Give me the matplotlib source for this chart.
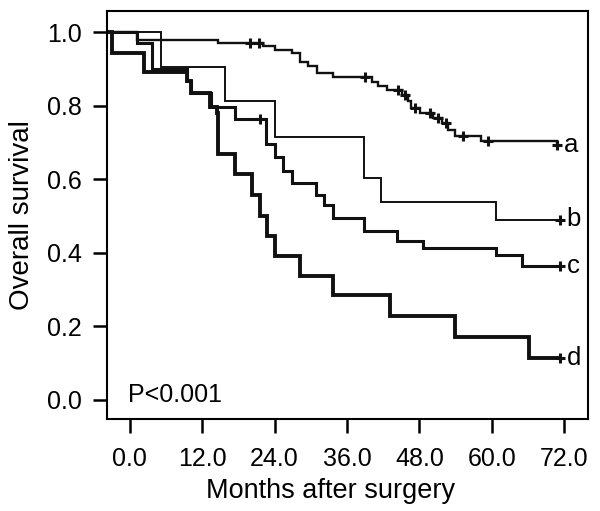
import matplotlib
matplotlib.use('Agg')
import matplotlib.pyplot as plt

plt.rcParams['font.family'] = ['Liberation Sans', 'DejaVu Sans']

# step curves: start time of each level (months) and survival at that level
t_a = [-3.8, 1.1, 14.6, 22.1, 24.0, 26.8, 28.2, 29.6, 31.0, 33.7, 40.1, 41.2,
       42.6, 45.1, 46.2, 46.7, 48.1, 50.3, 51.7, 52.8, 53.9, 58.3, 70.8]
s_a = [1.0, 0.98, 0.971, 0.963, 0.952, 0.943, 0.92, 0.907, 0.889, 0.878, 0.866,
       0.853, 0.842, 0.83, 0.812, 0.794, 0.78, 0.767, 0.753, 0.735, 0.718,
       0.703, 0.692]
cens_a = [19.9, 21.4, 39.0, 44.5, 45.6, 47.3, 49.8, 51.1, 52.5, 55.3, 59.4, 70.8]

t_b = [-3.8, 5.2, 15.8, 24.0, 38.8, 41.7, 60.7]
s_b = [1.0, 0.905, 0.812, 0.714, 0.604, 0.537, 0.49]
cens_b = [71.3]

t_c = [-3.8, 1.1, 3.6, 9.4, 10.2, 13.4, 17.4, 22.6, 24.0, 25.4, 26.8, 30.9,
       32.2, 33.6, 38.8, 44.3, 48.6, 60.7, 65.0]
s_c = [1.0, 0.97, 0.90, 0.868, 0.835, 0.798, 0.765, 0.697, 0.66, 0.623, 0.589,
       0.557, 0.53, 0.496, 0.46, 0.432, 0.413, 0.393, 0.363]
cens_c = [21.6, 71.3]

t_d = [-3.8, -3.0, 2.4, 9.4, 10.2, 13.3, 14.4, 14.6, 17.4, 20.2, 21.6, 22.8,
       24.0, 28.2, 33.7, 43.1, 53.9, 66.2]
s_d = [1.0, 0.945, 0.891, 0.868, 0.835, 0.798, 0.78, 0.669, 0.614, 0.556,
       0.501, 0.446, 0.39, 0.337, 0.286, 0.227, 0.17, 0.113]
cens_d = [71.3]

groups = ['a', 'b', 'c', 'd']
x_ticks = [0, 12, 24, 36, 48, 60, 72]
y_ticks = [0.0, 0.2, 0.4, 0.6, 0.8, 1.0]


def level_at(t, s, x):
    v = s[0]
    for ti, si in zip(t, s):
        if ti <= x:
            v = si
    return v


fig = plt.figure(figsize=(6.0, 5.11), dpi=100)
ax = fig.add_axes([0.1783, 0.1795, 0.802, 0.799])

curves = [(t_a, s_a, cens_a, 1.7), (t_b, s_b, cens_b, 1.4),
          (t_c, s_c, cens_c, 2.2), (t_d, s_d, cens_d, 2.8)]
for lab, (t, s, cens, lw) in zip(groups, curves):
    t_end = max(cens)
    ax.step(t + [t_end], s + [s[-1]], where='post', color='#111111', lw=lw,
            solid_joinstyle='miter')
    ax.plot(cens, [level_at(t, s, c) for c in cens], ls='none', marker='+',
            ms=7, mew=2.2, color='#111111')
    ax.annotate(lab, (t_end, s[-1]), xytext=(5, -4.7),
                textcoords='offset points', va='baseline', ha='left',
                fontsize=18.5)

ax.text(0.044, 0.043, 'P<0.001', transform=ax.transAxes, fontsize=18,
        va='baseline', ha='left')

ax.set_xlim(-3.8, 76)
ax.set_ylim(-0.053, 1.058)
ax.set_xticks(x_ticks)
ax.set_xticklabels([f'{v:.1f}' for v in x_ticks])
ax.set_yticks(y_ticks)
ax.set_yticklabels([f'{v:.1f}' for v in y_ticks])
ax.tick_params(direction='out', length=10, width=1.8, labelsize=18)
ax.tick_params(axis='x', pad=10)
ax.tick_params(axis='y', pad=8)
for sp in ax.spines.values():
    sp.set_linewidth(1.5)
ax.set_xlabel('Months after surgery', fontsize=19.5)
ax.xaxis.set_label_coords(0.465, -0.145)
ax.set_ylabel('Overall survival', fontsize=20, labelpad=9)

fig.savefig('out.png', dpi=100)
